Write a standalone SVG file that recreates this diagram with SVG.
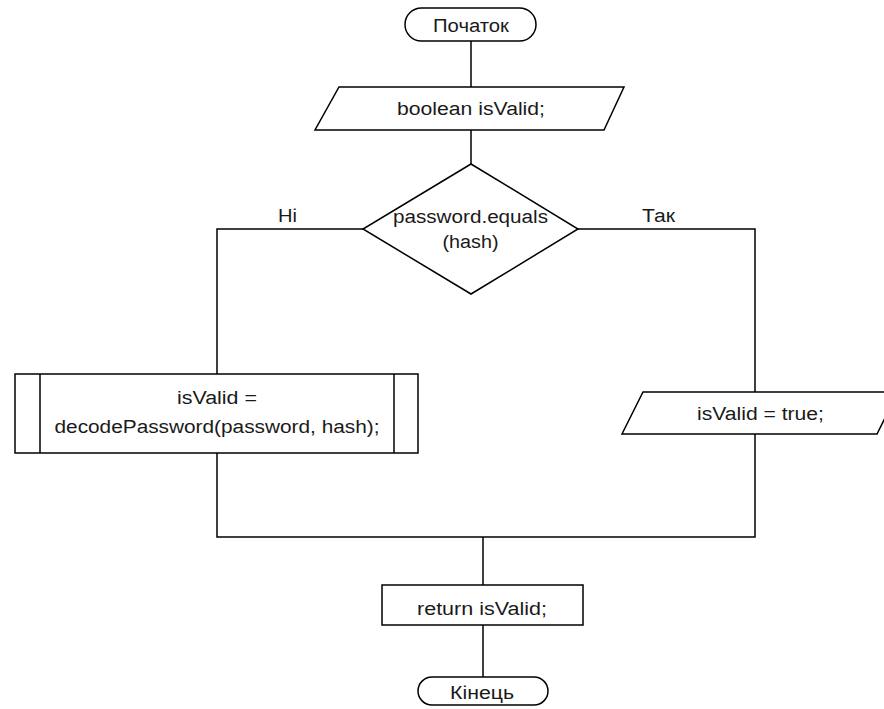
<svg xmlns="http://www.w3.org/2000/svg" width="884" height="709" viewBox="0 0 884 709">
  <style>
    .shape { fill: #ffffff; stroke: #000000; stroke-width: 1.5; }
    .wire { fill: none; stroke: #000000; stroke-width: 1.5; }
    text { font-family: "Liberation Sans", Arial, sans-serif; font-size: 18px; fill: #1a1a1a; text-anchor: middle; }
  </style>
  <rect width="884" height="709" fill="#ffffff"/>

  <g id="connectors">
    <line class="wire" x1="471" y1="41" x2="471" y2="87"/>
    <line class="wire" x1="471" y1="130" x2="471" y2="164"/>
    <polyline class="wire" points="363,229 217,229 217,374"/>
    <polyline class="wire" points="578,229 755,229 755,392"/>
    <polyline class="wire" points="217,453 217,537 755,537 755,434"/>
    <line class="wire" x1="483" y1="537" x2="483" y2="585"/>
    <line class="wire" x1="483" y1="625" x2="483" y2="677"/>
    <text x="287.5" y="222" textLength="19" lengthAdjust="spacingAndGlyphs">Ні</text>
    <text x="658.5" y="222" textLength="33" lengthAdjust="spacingAndGlyphs">Так</text>
  </g>

  <g id="start">
    <rect class="shape" x="405" y="8" width="131" height="33" rx="16.5"/>
    <text x="471" y="32" textLength="76" lengthAdjust="spacingAndGlyphs">Початок</text>
  </g>

  <g id="declare">
    <polygon class="shape" points="339,87 624,87 604,130 315,130"/>
    <text x="471" y="115" textLength="148" lengthAdjust="spacingAndGlyphs">boolean isValid;</text>
  </g>

  <g id="check">
    <polygon class="shape" points="471,164 578,229 471,294 363,229"/>
    <text x="470.5" y="223" textLength="155" lengthAdjust="spacingAndGlyphs">password.equals</text>
    <text x="470.5" y="248" textLength="56" lengthAdjust="spacingAndGlyphs">(hash)</text>
  </g>

  <g id="decode">
    <rect class="shape" x="15" y="374" width="403" height="79"/>
    <line class="wire" x1="40" y1="374" x2="40" y2="453"/>
    <line class="wire" x1="394" y1="374" x2="394" y2="453"/>
    <text x="217" y="404" textLength="80" lengthAdjust="spacingAndGlyphs">isValid =</text>
    <text x="217" y="433" textLength="325" lengthAdjust="spacingAndGlyphs">decodePassword(password, hash);</text>
  </g>

  <g id="assign">
    <polygon class="shape" points="643,392 898,392 877,434 622,434"/>
    <text x="760.5" y="420" textLength="127" lengthAdjust="spacingAndGlyphs">isValid = true;</text>
  </g>

  <g id="return">
    <rect class="shape" x="382" y="585" width="201" height="40"/>
    <text x="482" y="615" textLength="130" lengthAdjust="spacingAndGlyphs">return isValid;</text>
  </g>

  <g id="end">
    <rect class="shape" x="418" y="677" width="130" height="28" rx="14"/>
    <text x="482" y="699" textLength="64" lengthAdjust="spacingAndGlyphs">Кінець</text>
  </g>
</svg>
